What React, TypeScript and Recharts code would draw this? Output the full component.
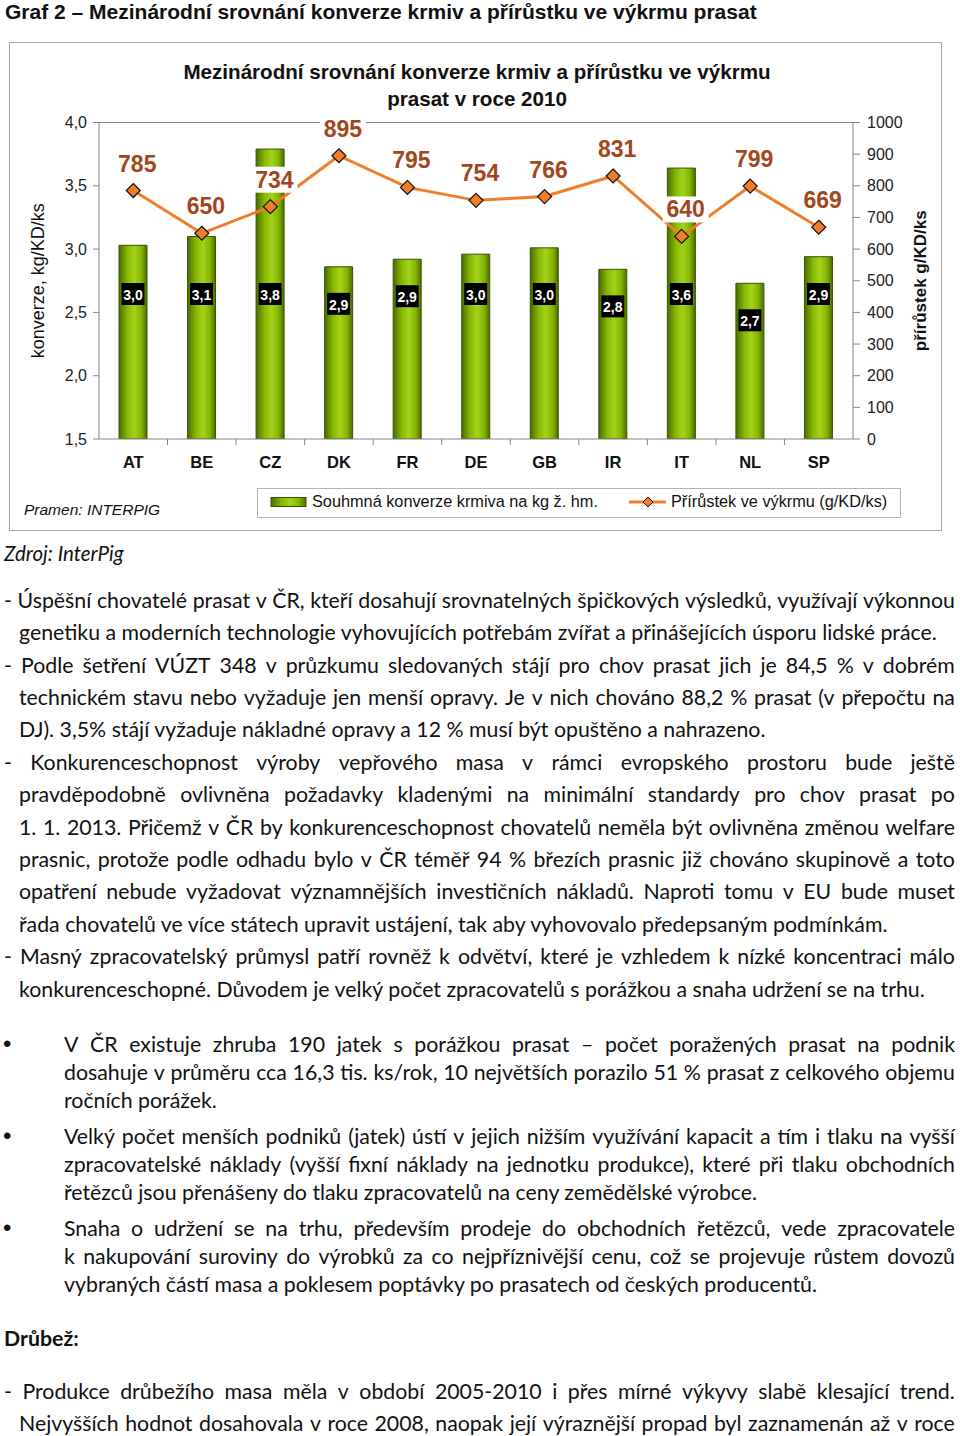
import React from "react";
import {
  Bar,
  ComposedChart,
  LabelList,
  Legend,
  Line,
  ReferenceLine,
  XAxis,
  YAxis,
} from "recharts";

// chart values
const countries = ["AT", "BE", "CZ", "DK", "FR", "DE", "GB", "IR", "IT", "NL", "SP"];
const conversion = [3.03, 3.1, 3.79, 2.86, 2.92, 2.96, 3.01, 2.84, 3.64, 2.73, 2.94];
const gain = [785, 650, 734, 895, 795, 754, 766, 831, 640, 799, 669];
const leftTicks = [1.5, 2, 2.5, 3, 3.5, 4];
const rightTicks = [0, 100, 200, 300, 400, 500, 600, 700, 800, 900, 1000];

const convName = "Souhmná konverze krmiva na kg ž. hm.";
const gainName = "Přírůstek ve výkrmu (g/KD/ks)";

const data = countries.map((c, i) => ({
  country: c,
  conversion: conversion[i],
  gain: gain[i],
}));

const PLOT_LEFT = 99;
const PLOT_RIGHT = 853;
const PLOT_TOP = 122.5;
const PLOT_BOTTOM = 439;
const CHART_W = 960;
const CHART_H = 540;
const LEFT_AXIS_W = 66.5;
const RIGHT_AXIS_W = 72;
const X_AXIS_H = 30;

const ARIAL = "Arial, 'Liberation Sans', sans-serif";
const NARROW = "'Liberation Sans Narrow', 'Arial Narrow', Arial, sans-serif";
const BODY = "Lato, Carlito, Calibri, 'Open Sans', sans-serif";
const AXIS = "#868686";
const ORANGE = "#F07D2A";
const LABEL_BROWN = "#A3461C";

const fmt = (v: number) => v.toFixed(1).replace(".", ",");

const BarValueLabel = (props: any) => {
  const vb = props.viewBox || props;
  const x = vb.x ?? props.x;
  const y = vb.y ?? props.y;
  const w = vb.width ?? props.width;
  const h = vb.height ?? props.height;
  const bottom = y + h;
  const cy = Math.max(bottom - 145, y + 37);
  const cx = x + w / 2;
  return (
    <g>
      <rect x={cx - 11.5} y={cy - 11} width={23} height={22} fill="#000" />
      <text
        x={cx}
        y={cy + 1}
        fill="#fff"
        fontSize={14}
        fontWeight="bold"
        fontFamily={ARIAL}
        textAnchor="middle"
        dominantBaseline="central"
      >
        {fmt(Number(props.value))}
      </text>
    </g>
  );
};

// Excel draws these labels on a white box, so they cut through the bars
const GainLabel = (props: any) => {
  const vb = props.viewBox || {};
  const x = props.x ?? vb.x;
  const y = props.y ?? vb.y;
  const cx = x + 4;
  const cy = y - 27;
  return (
    <g>
      <rect x={cx - 23} y={cy - 13} width={46} height={26} fill="#fff" />
      <text
        x={cx}
        y={cy}
        fill={LABEL_BROWN}
        fontSize={23}
        fontWeight="bold"
        fontFamily={ARIAL}
        textAnchor="middle"
        dominantBaseline="central"
      >
        {props.value}
      </text>
    </g>
  );
};

const diamond = (cx: number, cy: number, r: number) =>
  `M${cx},${cy - r}L${cx + r},${cy}L${cx},${cy + r}L${cx - r},${cy}Z`;

const GainDot = (props: any) => {
  const { cx, cy, index } = props;
  return (
    <path
      key={`dot-${index}`}
      d={diamond(cx, cy, 7)}
      fill={ORANGE}
      stroke="#111"
      strokeWidth={1.2}
    />
  );
};

const CountryTick = (props: any) => {
  const { x, y, payload, index } = props;
  const band = (PLOT_RIGHT - PLOT_LEFT) / countries.length;
  return (
    <g>
      {index > 0 && (
        <line
          x1={x - band / 2}
          x2={x - band / 2}
          y1={PLOT_BOTTOM}
          y2={PLOT_BOTTOM + 6}
          stroke={AXIS}
        />
      )}
      <text
        x={x}
        y={y}
        dy="0.72em"
        textAnchor="middle"
        fontSize={16.5}
        fontWeight="bold"
        fontFamily={ARIAL}
        fill="#111"
      >
        {payload.value}
      </text>
    </g>
  );
};

const ChartLegend = () => (
  <div
    style={{
      boxSizing: "border-box",
      width: 644,
      height: 30,
      border: "1px solid #b4b4b4",
      background: "#fff",
      position: "relative",
      fontFamily: ARIAL,
      fontSize: 16.3,
      color: "#111",
    }}
  >
    <svg width={644} height={30} style={{ position: "absolute", left: 0, top: 0 }}>
      <rect x={13} y={8.5} width={35} height={9} fill="url(#barGrad)" stroke="#3b5400" />
      <line x1={371} x2={408} y1={13} y2={13} stroke={ORANGE} strokeWidth={3} />
      <path d={diamond(390, 13, 5)} fill={ORANGE} stroke="#111" strokeWidth={1} />
    </svg>
    <span style={{ position: "absolute", left: 54, top: 3, whiteSpace: "nowrap" }}>{convName}</span>
    <span style={{ position: "absolute", left: 413, top: 3, whiteSpace: "nowrap" }}>{gainName}</span>
  </div>
);

const Chart = () => (
  <ComposedChart
    width={CHART_W}
    height={CHART_H}
    data={data}
    margin={{
      top: PLOT_TOP,
      left: PLOT_LEFT - LEFT_AXIS_W,
      right: CHART_W - PLOT_RIGHT - RIGHT_AXIS_W,
      bottom: CHART_H - PLOT_BOTTOM - X_AXIS_H,
    }}
  >
    <defs>
      <linearGradient id="barGrad" x1="0" y1="0" x2="1" y2="0">
        <stop offset="0%" stopColor="#4a6b00" />
        <stop offset="30%" stopColor="#86b900" />
        <stop offset="55%" stopColor="#a3d31a" />
        <stop offset="80%" stopColor="#84b500" />
        <stop offset="100%" stopColor="#4b6c00" />
      </linearGradient>
    </defs>
    <XAxis
      dataKey="country"
      height={X_AXIS_H}
      tick={<CountryTick />}
      tickLine={false}
      tickSize={0}
      tickMargin={17}
      axisLine={{ stroke: AXIS }}
      interval={0}
    />
    <YAxis
      yAxisId="left"
      width={LEFT_AXIS_W}
      domain={[1.5, 4]}
      ticks={leftTicks}
      tickFormatter={fmt}
      allowDataOverflow
      tick={{ fill: "#222", fontSize: 16, fontFamily: ARIAL }}
      tickSize={6}
      tickMargin={6}
      axisLine={{ stroke: AXIS }}
      tickLine={{ stroke: AXIS }}
      label={{
        value: "konverze, kg/KD/ks",
        angle: -90,
        position: "insideLeft",
        offset: 5,
        style: { textAnchor: "middle", fontSize: 18, fontFamily: ARIAL, fill: "#111" },
      }}
    />
    <YAxis
      yAxisId="right"
      orientation="right"
      width={RIGHT_AXIS_W}
      domain={[0, 1000]}
      ticks={rightTicks}
      allowDataOverflow
      tick={{ fill: "#222", fontSize: 16, fontFamily: ARIAL }}
      tickSize={7}
      tickMargin={7}
      axisLine={{ stroke: AXIS }}
      tickLine={{ stroke: AXIS }}
      label={{
        value: "přírůstek g/KD/ks",
        angle: -90,
        position: "insideRight",
        offset: 5,
        style: {
          textAnchor: "middle",
          fontSize: 17,
          fontWeight: "bold",
          fontFamily: ARIAL,
          fill: "#111",
        },
      }}
    />
    <ReferenceLine yAxisId="left" y={4} stroke={AXIS} />
    <Legend
      verticalAlign="middle"
      align="center"
      layout="horizontal"
      wrapperStyle={{ left: 257, top: 488, width: 644, height: 30 }}
      content={() => <ChartLegend />}
    />
    <Bar
      yAxisId="left"
      dataKey="conversion"
      name={convName}
      barSize={28}
      fill="url(#barGrad)"
      stroke="#3b5400"
      strokeWidth={1}
      isAnimationActive={false}
    >
      <LabelList dataKey="conversion" content={BarValueLabel} />
    </Bar>
    <Line
      yAxisId="right"
      dataKey="gain"
      name={gainName}
      type="linear"
      stroke={ORANGE}
      strokeWidth={3}
      dot={GainDot}
      activeDot={false}
      isAnimationActive={false}
    >
      <LabelList dataKey="gain" content={GainLabel} />
    </Line>
  </ComposedChart>
);

type TextLine = { t: string; j: boolean; indent: number };

const mainLines: TextLine[] = [
  { t: "- Úspěšní chovatelé prasat v ČR, kteří dosahují srovnatelných špičkových výsledků, využívají výkonnou", j: true, indent: 4 },
  { t: "genetiku a moderních technologie vyhovujících potřebám zvířat a přinášejících úsporu lidské práce.", j: false, indent: 19 },
  { t: "- Podle šetření VÚZT 348 v průzkumu sledovaných stájí pro chov prasat jich je 84,5 % v dobrém", j: true, indent: 4 },
  { t: "technickém stavu nebo vyžaduje jen menší opravy. Je v nich chováno 88,2 % prasat (v přepočtu na", j: true, indent: 19 },
  { t: "DJ). 3,5% stájí vyžaduje nákladné opravy a 12 % musí být opuštěno a nahrazeno.", j: false, indent: 19 },
  { t: "- Konkurenceschopnost výroby vepřového masa v rámci evropského prostoru bude ještě", j: true, indent: 4 },
  { t: "pravděpodobně ovlivněna požadavky kladenými na minimální standardy pro chov prasat po", j: true, indent: 19 },
  { t: "1. 1. 2013. Přičemž v ČR by konkurenceschopnost chovatelů neměla být ovlivněna změnou welfare", j: true, indent: 19 },
  { t: "prasnic, protože podle odhadu bylo v ČR téměř 94 % březích prasnic již chováno skupinově a toto", j: true, indent: 19 },
  { t: "opatření nebude vyžadovat významnějších investičních nákladů. Naproti tomu v EU bude muset", j: true, indent: 19 },
  { t: "řada chovatelů ve více státech upravit ustájení, tak aby vyhovovalo předepsaným podmínkám.", j: false, indent: 19 },
  { t: "- Masný zpracovatelský průmysl patří rovněž k odvětví, které je vzhledem k nízké koncentraci málo", j: true, indent: 4 },
  { t: "konkurenceschopné. Důvodem je velký počet zpracovatelů s porážkou a snaha udržení se na trhu.", j: false, indent: 19 },
];

const bullets: TextLine[][] = [
  [
    { t: "V ČR existuje zhruba 190 jatek s porážkou prasat – počet poražených prasat na podnik", j: true, indent: 64 },
    { t: "dosahuje v průměru cca 16,3 tis. ks/rok, 10 největších porazilo 51 % prasat z celkového objemu", j: true, indent: 64 },
    { t: "ročních porážek.", j: false, indent: 64 },
  ],
  [
    { t: "Velký počet menších podniků (jatek) ústí v jejich nižším využívání kapacit a tím i tlaku na vyšší", j: true, indent: 64 },
    { t: "zpracovatelské náklady (vyšší fixní náklady na jednotku produkce), které při tlaku obchodních", j: true, indent: 64 },
    { t: "řetězců jsou přenášeny do tlaku zpracovatelů na ceny zemědělské výrobce.", j: false, indent: 64 },
  ],
  [
    { t: "Snaha o udržení se na trhu, především prodeje do obchodních řetězců, vede zpracovatele", j: true, indent: 64 },
    { t: "k nakupování suroviny do výrobků za co nejpříznivější cenu, což se projevuje růstem dovozů", j: true, indent: 64 },
    { t: "vybraných částí masa a poklesem poptávky po prasatech od českých producentů.", j: false, indent: 64 },
  ],
];

const poultryLines: TextLine[] = [
  { t: "- Produkce drůbežího masa měla v období 2005-2010 i přes mírné výkyvy slabě klesající trend.", j: true, indent: 4 },
  { t: "Nejvyšších hodnot dosahovala v roce 2008, naopak její výraznější propad byl zaznamenán až v roce", j: true, indent: 19 },
];

const RIGHT_EDGE = 955;

// one printed line per row; justified rows spread their words with flexbox
const Lines = ({ lines, lh, size }: { lines: TextLine[]; lh: number; size: number }) => (
  <>
    {lines.map((l, i) => (
      <div
        key={i}
        style={{
          marginLeft: l.indent,
          width: RIGHT_EDGE - l.indent,
          height: lh,
          lineHeight: `${lh}px`,
          fontSize: size,
          whiteSpace: "nowrap",
          display: l.j ? "flex" : "block",
          justifyContent: "space-between",
        }}
      >
        {l.j ? l.t.split(" ").map((w, k) => <span key={k}>{w}</span>) : l.t}
      </div>
    ))}
  </>
);

const BODY_SIZE = 21.3;

export default function App() {
  return (
    <div
      style={{
        position: "relative",
        width: 960,
        height: 1436,
        background: "#fff",
        overflow: "hidden",
        fontFamily: BODY,
        color: "#111",
      }}
    >
      <style>{`html,body{margin:0;padding:0;overflow:hidden;background:#fff}`}</style>
      <div
        style={{
          position: "absolute",
          left: 5,
          top: 0,
          height: 24,
          lineHeight: "24px",
          fontFamily: NARROW,
          fontWeight: "bold",
          fontSize: 21,
          whiteSpace: "nowrap",
          color: "#111",
        }}
      >
        Graf 2 – Mezinárodní srovnání konverze krmiv a přírůstku ve výkrmu prasat
      </div>
      <div
        style={{
          position: "absolute",
          left: 9,
          top: 42,
          width: 933,
          height: 489,
          boxSizing: "border-box",
          border: "1px solid #a8a8a8",
        }}
      />
      <div
        style={{
          position: "absolute",
          left: 0,
          top: 58,
          width: 954,
          textAlign: "center",
          fontFamily: ARIAL,
          fontWeight: "bold",
          fontSize: 20.6,
          lineHeight: "27px",
          color: "#111",
        }}
      >
        Mezinárodní srovnání konverze krmiv a přírůstku ve výkrmu
        <br />
        prasat v roce 2010
      </div>
      <div
        style={{
          position: "absolute",
          left: 24,
          top: 501,
          fontFamily: ARIAL,
          fontStyle: "italic",
          fontSize: 15.5,
          lineHeight: "18px",
          whiteSpace: "nowrap",
        }}
      >
        Pramen: INTERPIG
      </div>
      <div style={{ position: "absolute", left: 0, top: 0 }}>
        <Chart />
      </div>

      <div
        style={{
          position: "absolute",
          left: 4,
          top: 541,
          fontStyle: "italic",
          fontSize: 20.5,
          lineHeight: "24px",
        }}
      >
        Zdroj: InterPig
      </div>

      <div style={{ position: "absolute", left: 0, top: 600 - 16.2, width: 960 }}>
        <Lines lines={mainLines} lh={32.42} size={BODY_SIZE} />
      </div>

      <div style={{ position: "absolute", left: 0, top: 1030, width: 960 }}>
        {bullets.map((b, i) => (
          <div key={i} style={{ position: "relative", marginBottom: 8 }}>
            <div
              style={{
                position: "absolute",
                left: 3,
                top: 0,
                lineHeight: "28px",
                fontFamily: ARIAL,
                fontSize: 24,
              }}
            >
              •
            </div>
            <Lines lines={b} lh={28} size={BODY_SIZE} />
          </div>
        ))}
      </div>

      <div
        style={{
          position: "absolute",
          left: 4,
          top: 1326,
          fontWeight: "bold",
          fontSize: BODY_SIZE,
          lineHeight: "24px",
        }}
      >
        Drůbež:
      </div>

      <div style={{ position: "absolute", left: 0, top: 1391 - 16.2, width: 960 }}>
        <Lines lines={poultryLines} lh={32.42} size={BODY_SIZE} />
      </div>
    </div>
  );
}
